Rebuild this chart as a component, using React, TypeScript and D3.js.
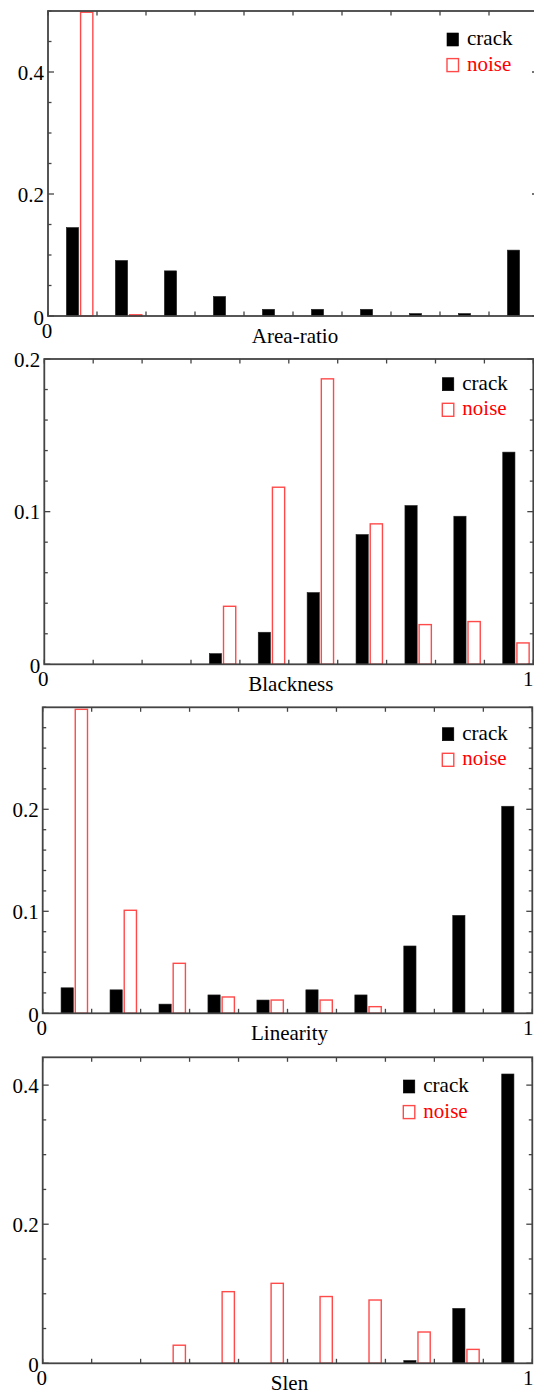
import React, { useEffect, useRef } from "react";
import * as d3 from "d3";

// left edge of each histogram bin (10 bins over 0..1)
const binStarts = [0, 0.1, 0.2, 0.3, 0.4, 0.5, 0.6, 0.7, 0.8, 0.9];
const seriesNames = ["crack", "noise"];

const areaRatioCrack = [0.145, 0.091, 0.074, 0.032, 0.011, 0.011, 0.011, 0.004, 0.004, 0.108];
const areaRatioNoise = [0.498, 0.002, 0, 0, 0, 0, 0, 0, 0, 0];
const blacknessCrack = [0, 0, 0, 0.007, 0.021, 0.047, 0.085, 0.104, 0.097, 0.139];
const blacknessNoise = [0, 0, 0, 0.038, 0.116, 0.187, 0.092, 0.026, 0.028, 0.014];
const linearityCrack = [0.025, 0.023, 0.009, 0.018, 0.013, 0.023, 0.018, 0.066, 0.096, 0.203];
const linearityNoise = [0.298, 0.101, 0.049, 0.016, 0.013, 0.013, 0.0065, 0, 0, 0];
const slenCrack = [0, 0, 0, 0, 0, 0, 0, 0.004, 0.079, 0.416];
const slenNoise = [0, 0, 0.026, 0.103, 0.115, 0.096, 0.091, 0.045, 0.02, 0];

const xLabels = ["Area-ratio", "Blackness", "Linearity", "Slen"];
const yTickValues = [[0, 0.2, 0.4], [0, 0.1, 0.2], [0, 0.1, 0.2], [0, 0.2, 0.4]];
const yMax = [0.5, 0.2, 0.3, 0.44];
const yMinorStep = [0.05, 0.02, 0.02, 0.05];
const xTickLabels = ["0", "1"];

const crackSeries = [areaRatioCrack, blacknessCrack, linearityCrack, slenCrack];
const noiseSeries = [areaRatioNoise, blacknessNoise, linearityNoise, slenNoise];

// where each panel sits on the page (first one runs past the right edge)
const frames = [
  { left: 48, right: 538, top: 11, bottom: 316, legX: 447, legY: 33, showEnd: false },
  { left: 44.3, right: 533.3, top: 359, bottom: 664.3, legX: 442.3, legY: 377.7, showEnd: true },
  { left: 42.7, right: 532.3, top: 707.3, bottom: 1013.3, legX: 442.3, legY: 727.7, showEnd: true },
  { left: 42.7, right: 532.3, top: 1057.3, bottom: 1363.3, legX: 403.3, legY: 1080, showEnd: true },
];

const FONT = "'Liberation Serif', 'Times New Roman', serif";
const AXIS = "#444";
const RED = "#ff4a4a";

export default function App() {
  const ref = useRef<SVGSVGElement>(null);

  useEffect(() => {
    const svg = d3.select(ref.current);
    svg.selectAll("*").remove();

    frames.forEach((f, p) => {
      const g = svg.append("g");
      const x = d3.scaleLinear().domain([0, 1]).range([f.left, f.right]);
      const y = d3.scaleLinear().domain([0, yMax[p]]).range([f.bottom, f.top]);
      const binW = 0.1;

      // crack bars (filled)
      g.selectAll(".crack")
        .data(crackSeries[p])
        .enter()
        .append("rect")
        .attr("x", (d, i) => x(binStarts[i] + binW * 0.375))
        .attr("width", x(binW * 0.25) - x(0))
        .attr("y", (d) => y(d))
        .attr("height", (d) => y(0) - y(d))
        .attr("fill", "#000")
        .attr("stroke", "#222")
        .attr("stroke-width", 0.6);

      // noise bars (outlined)
      g.selectAll(".noise")
        .data(noiseSeries[p])
        .enter()
        .append("rect")
        .attr("x", (d, i) => x(binStarts[i] + binW * 0.665))
        .attr("width", x(binW * 0.25) - x(0))
        .attr("y", (d) => y(d))
        .attr("height", (d) => y(0) - y(d))
        .attr("fill", "#fff")
        .attr("stroke", RED)
        .attr("stroke-width", 1.4);

      // frame
      g.append("rect")
        .attr("x", f.left)
        .attr("y", f.top)
        .attr("width", f.right - f.left)
        .attr("height", f.bottom - f.top)
        .attr("fill", "none")
        .attr("stroke", AXIS)
        .attr("stroke-width", 1.8);

      // x ticks, top and bottom, pointing in
      const xt = d3.range(0, 11).map((i) => i / 10);
      xt.forEach((t) => {
        g.append("line").attr("x1", x(t)).attr("x2", x(t))
          .attr("y1", f.bottom).attr("y2", f.bottom - 4.5)
          .attr("stroke", AXIS).attr("stroke-width", 1.3);
        g.append("line").attr("x1", x(t)).attr("x2", x(t))
          .attr("y1", f.top).attr("y2", f.top + 4.5)
          .attr("stroke", AXIS).attr("stroke-width", 1.3);
      });

      // y ticks, minor + major, both sides
      const minor = d3.range(0, yMax[p] + 1e-9, yMinorStep[p]);
      minor.forEach((t) => {
        const major = yTickValues[p].some((v) => Math.abs(v - t) < 1e-9);
        const len = major ? 6 : 3.5;
        g.append("line").attr("x1", f.left).attr("x2", f.left + len)
          .attr("y1", y(t)).attr("y2", y(t))
          .attr("stroke", AXIS).attr("stroke-width", 1.3);
        g.append("line").attr("x1", f.right).attr("x2", f.right - len)
          .attr("y1", y(t)).attr("y2", y(t))
          .attr("stroke", AXIS).attr("stroke-width", 1.3);
      });

      // y tick labels
      yTickValues[p].forEach((v) => {
        g.append("text")
          .attr("x", f.left - 4)
          .attr("y", y(v) + (v === 0 ? 9 : 7.5))
          .attr("text-anchor", "end")
          .style("font-family", FONT)
          .style("font-size", "21px")
          .text(v === 0 ? "0" : d3.format(".1f")(v));
      });

      // x tick labels at the ends
      g.append("text")
        .attr("x", x(0) - 1)
        .attr("y", f.bottom + 22)
        .attr("text-anchor", "middle")
        .style("font-family", FONT)
        .style("font-size", "21px")
        .text(xTickLabels[0]);
      if (f.showEnd) {
        g.append("text")
          .attr("x", 533.5)
          .attr("y", f.bottom + 22)
          .attr("text-anchor", "end")
          .style("font-family", FONT)
          .style("font-size", "21px")
          .text(xTickLabels[1]);
      }

      // x axis label
      g.append("text")
        .attr("x", (f.left + f.right) / 2 + 2)
        .attr("y", f.bottom + 27)
        .attr("text-anchor", "middle")
        .style("font-family", FONT)
        .style("font-size", "21px")
        .text(xLabels[p]);

      // legend
      seriesNames.forEach((name, i) => {
        const ly = f.legY + i * 25.6;
        g.append("rect")
          .attr("x", f.legX)
          .attr("y", ly)
          .attr("width", 11.5)
          .attr("height", 13)
          .attr("fill", i === 0 ? "#000" : "#fff")
          .attr("stroke", i === 0 ? "#000" : RED)
          .attr("stroke-width", i === 0 ? 0.6 : 1.4);
        g.append("text")
          .attr("x", f.legX + 20)
          .attr("y", ly + 12)
          .style("font-family", FONT)
          .style("font-size", "21px")
          .attr("fill", i === 0 ? "#000" : "#f00")
          .text(name);
      });
    });
  }, []);

  return (
    <div style={{ position: "absolute", left: 0, top: 0 }}>
      <svg ref={ref} width={534} height={1394} style={{ display: "block", background: "#fff" }}></svg>
    </div>
  );
}
